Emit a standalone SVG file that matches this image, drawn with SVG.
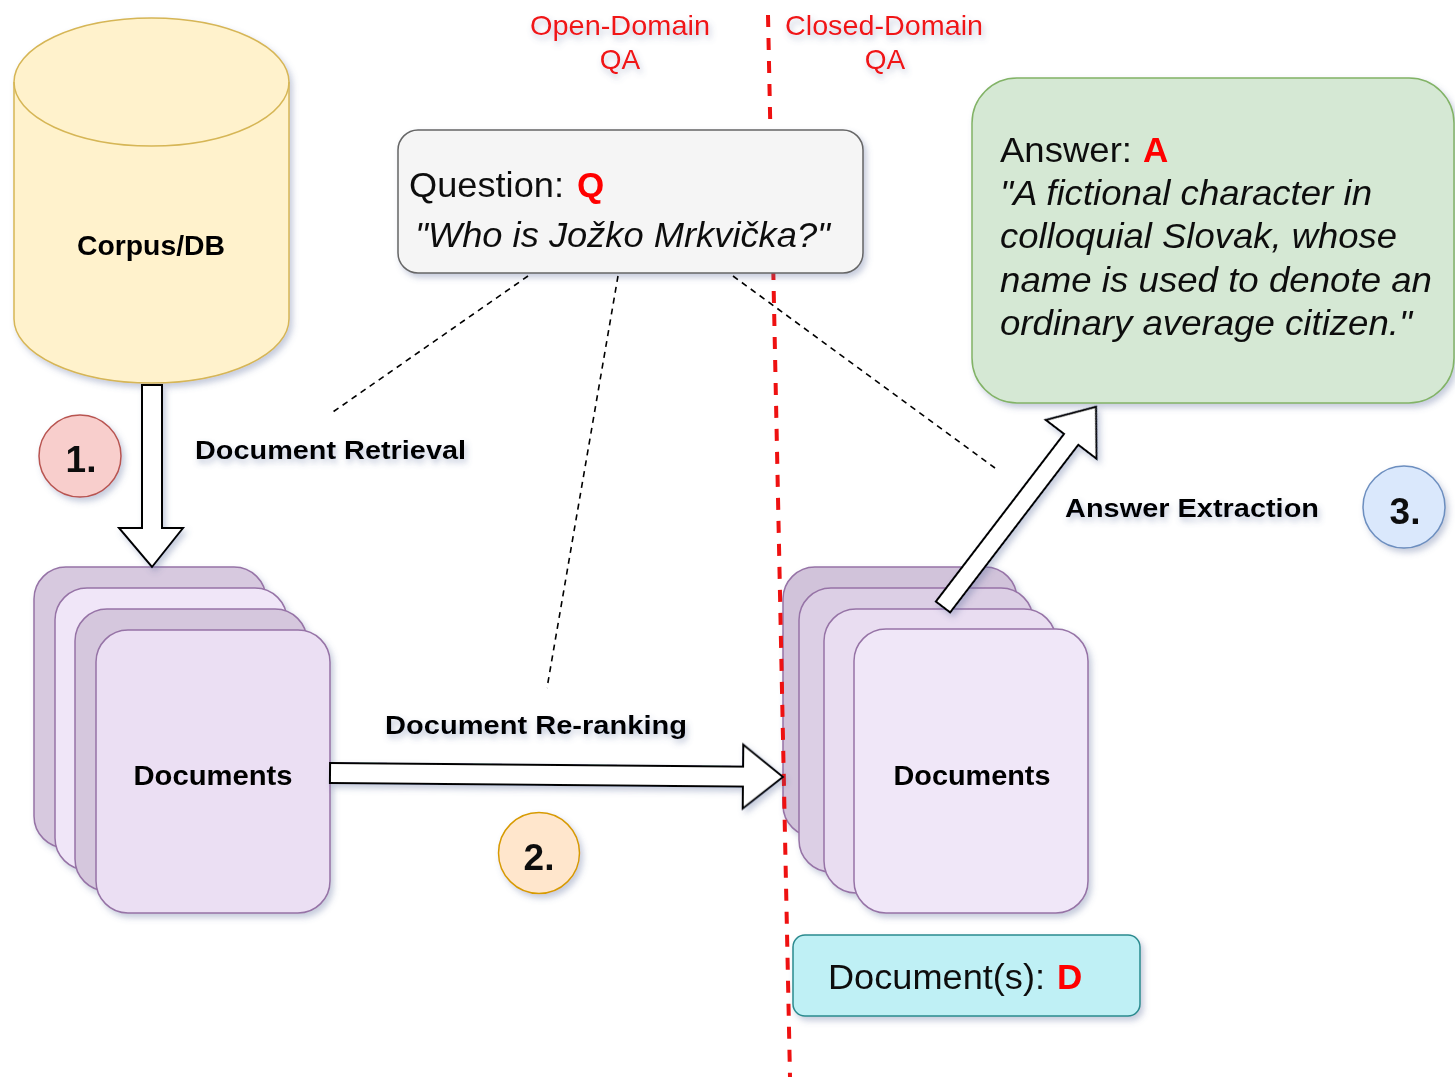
<svg xmlns="http://www.w3.org/2000/svg" width="1455" height="1077" viewBox="0 0 1455 1077">
<defs>
<filter id="sh" x="-20%" y="-20%" width="140%" height="140%">
<feDropShadow dx="3" dy="4" stdDeviation="3" flood-color="#5a6a9a" flood-opacity="0.35"/>
</filter>
<filter id="tsh" x="-10%" y="-30%" width="120%" height="160%">
<feDropShadow dx="2" dy="4" stdDeviation="3" flood-color="#5a6a9a" flood-opacity="0.4"/>
</filter>
</defs>
<style>
text{font-family:"Liberation Sans",Arial,sans-serif}
.lbl{font-weight:bold;font-size:26px;fill:#000}
.num{font-weight:bold;font-size:37px;fill:#111;text-anchor:middle}
.dom{font-size:28px;fill:#f01818}
.doc{fill:#ece0f3;stroke:#9673a6;stroke-width:1.5}
.ar{fill:#fff;stroke:#000;stroke-width:2;stroke-linejoin:miter}
.dl{stroke:#000;stroke-width:1.6;stroke-dasharray:6 5;fill:none}
.big{font-size:35px;fill:#111}
.red{fill:#ff0000;font-weight:bold}
</style>
<rect width="1455" height="1077" fill="#fff"/>

<g id="domain-labels" filter="url(#tsh)">
<text class="dom" x="530" y="35" textLength="180" lengthAdjust="spacingAndGlyphs">Open-Domain</text>
<text class="dom" x="620" y="69" text-anchor="middle">QA</text>
<text class="dom" x="785" y="35" textLength="198" lengthAdjust="spacingAndGlyphs">Closed-Domain</text>
<text class="dom" x="885" y="69" text-anchor="middle">QA</text>
</g>

<g id="corpus" filter="url(#sh)">
<path d="M14,82 A137.5,64 0 0 1 289,82 L289,319 A137.5,64 0 0 1 14,319 Z" fill="#fff2cc" stroke="#d6b656" stroke-width="1.5"/>
<path d="M14,82 A137.5,64 0 0 0 289,82" fill="none" stroke="#d6b656" stroke-width="1.5"/>
<text x="151" y="255" text-anchor="middle" font-weight="bold" font-size="27" textLength="148" lengthAdjust="spacingAndGlyphs">Corpus/DB</text>
</g>

<g id="step1" filter="url(#sh)">
<circle cx="80" cy="456" r="41" fill="#f8cecc" stroke="#b85450" stroke-width="1.5"/>
<text class="num" x="81" y="472">1.</text>
</g>
<g id="step2" filter="url(#sh)">
<circle cx="539" cy="853" r="40.5" fill="#ffe6cc" stroke="#d79b00" stroke-width="1.5"/>
<text class="num" x="539" y="870">2.</text>
</g>
<g id="step3" filter="url(#sh)">
<circle cx="1404" cy="507" r="41" fill="#dae8fc" stroke="#6c8ebf" stroke-width="1.5"/>
<text class="num" x="1405" y="524">3.</text>
</g>

<g id="docs-left" filter="url(#sh)">
<rect class="doc" x="34" y="567" width="232" height="281" rx="32" fill="#d7c9df" style="fill:#d7c9df"/>
<rect class="doc" x="55" y="588" width="232" height="282" rx="32" style="fill:#f0e6f8"/>
<rect class="doc" x="75" y="609" width="232" height="282" rx="32" style="fill:#d5c7dd"/>
<rect class="doc" x="96" y="630" width="234" height="283" rx="32" style="fill:#ebdff3"/>
<text x="213" y="785" text-anchor="middle" font-weight="bold" font-size="28" textLength="159" lengthAdjust="spacingAndGlyphs">Documents</text>
</g>

<g id="docs-right" filter="url(#sh)">
<rect class="doc" x="783" y="567" width="234" height="270" rx="32" style="fill:#d1c3da"/>
<rect class="doc" x="799" y="588" width="234" height="284" rx="32" style="fill:#dccfe5"/>
<rect class="doc" x="824" y="609" width="232" height="284" rx="32" style="fill:#e9ddf1"/>
<rect class="doc" x="854" y="629" width="234" height="284" rx="32" style="fill:#f0e7f8"/>
<text x="972" y="785" text-anchor="middle" font-weight="bold" font-size="28" textLength="157" lengthAdjust="spacingAndGlyphs">Documents</text>
</g>

<g id="divider">
<line x1="768" y1="15" x2="790" y2="1077" stroke="#ee1111" stroke-width="4" stroke-dasharray="12 11"/>
</g>

<g id="question" filter="url(#sh)">
<rect x="398" y="130" width="465" height="143" rx="20" fill="#f5f5f5" stroke="#666666" stroke-width="1.5"/>
<text class="big" x="409" y="197" textLength="155" lengthAdjust="spacingAndGlyphs">Question:</text>
<text class="big red" x="577" y="197">Q</text>
<text class="big" x="415" y="247" font-style="italic" textLength="415" lengthAdjust="spacingAndGlyphs">"Who is Jožko Mrkvička?"</text>
</g>

<g id="answer" filter="url(#sh)">
<rect x="972" y="78" width="482" height="325" rx="45" fill="#d5e8d4" stroke="#82b366" stroke-width="1.5"/>
<text class="big" x="1000" y="162" textLength="132" lengthAdjust="spacingAndGlyphs">Answer:</text>
<text class="big red" x="1143" y="162">A</text>
<g font-style="italic">
<text class="big" x="1000" y="205" textLength="372" lengthAdjust="spacingAndGlyphs">"A fictional character in</text>
<text class="big" x="1000" y="248" textLength="397" lengthAdjust="spacingAndGlyphs">colloquial Slovak, whose</text>
<text class="big" x="1000" y="292" textLength="432" lengthAdjust="spacingAndGlyphs">name is used to denote an</text>
<text class="big" x="1000" y="335" textLength="412" lengthAdjust="spacingAndGlyphs">ordinary average citizen."</text>
</g>
</g>

<g id="documents-d" filter="url(#sh)">
<rect x="793" y="935" width="347" height="81" rx="12" fill="#bff0f5" stroke="#2a8a8e" stroke-width="1.5"/>
<text class="big" x="828" y="989" textLength="217" lengthAdjust="spacingAndGlyphs">Document(s):</text>
<text class="big red" x="1057" y="989">D</text>
</g>

<g id="connectors">
<line class="dl" x1="528" y1="276" x2="330" y2="414"/>
<line class="dl" x1="618" y1="276" x2="547" y2="688"/>
<line class="dl" x1="733" y1="276" x2="995" y2="468"/>
<g filter="url(#sh)">
<polygon class="ar" points="142,385 162,385 162,528 183,528 152,567 119,528 142,528"/>
<polygon class="ar" transform="translate(330,773) rotate(0.5)" points="0,-10 413,-10 413,-32 453,0 413,32 413,10 0,10"/>
<polygon class="ar" transform="translate(943,607) rotate(-52.6)" points="0,-9 211,-9 211,-32 252,0 211,32 211,9 0,9"/>
</g>
<g filter="url(#tsh)">
<text class="lbl" x="195" y="459" textLength="271" lengthAdjust="spacingAndGlyphs">Document Retrieval</text>
<text class="lbl" x="385" y="734" textLength="302" lengthAdjust="spacingAndGlyphs">Document Re-ranking</text>
<text class="lbl" x="1065" y="517" textLength="254" lengthAdjust="spacingAndGlyphs">Answer Extraction</text>
</g>
</g>
</svg>
